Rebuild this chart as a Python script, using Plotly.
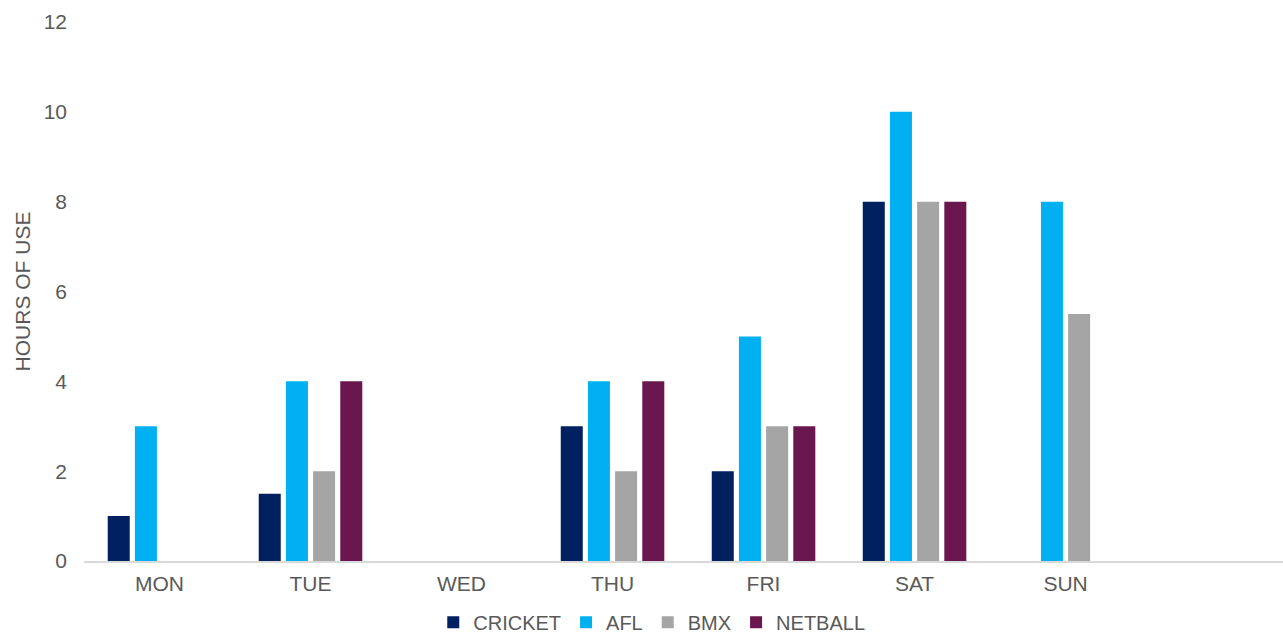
import plotly.graph_objects as go

days = ["MON", "TUE", "WED", "THU", "FRI", "SAT", "SUN"]
cricket = [1, 1.5, 0, 3, 2, 8, 0]
afl = [3, 4, 0, 4, 5, 10, 8]
bmx = [0, 2, 0, 2, 3, 8, 5.5]
netball = [0, 4, 0, 4, 3, 8, 0]

series = [
    ("CRICKET", cricket, "#002060"),
    ("AFL", afl, "#00B0F0"),
    ("BMX", bmx, "#A5A5A5"),
    ("NETBALL", netball, "#6B174F"),
]

fig = go.Figure()
for name, vals, color in series:
    fig.add_trace(go.Bar(
        x=days, y=vals, name=name,
        marker=dict(color=color, line=dict(width=0)),
    ))

font = dict(family="Arial, Liberation Sans, sans-serif", color="#595959", size=21)

fig.update_layout(
    width=1283, height=633,
    margin=dict(l=84, r=0, t=22, b=72),
    paper_bgcolor="white", plot_bgcolor="white",
    barmode="group", bargap=0.28, bargroupgap=0.19,
    font=font,
    showlegend=True,
    legend=dict(orientation="h", x=0.508, xref="container", xanchor="center",
                y=0.017, yref="container", yanchor="middle",
                font=dict(size=20, color="#595959"), itemwidth=30,
                traceorder="normal"),
    xaxis=dict(
        categoryorder="array", categoryarray=days,
        range=[-0.5, 7.44],
        showline=True, linecolor="#D9D9D9", linewidth=2,
        showgrid=False, zeroline=False, ticks="",
        tickfont=font, ticklabelstandoff=3,
    ),
    yaxis=dict(
        range=[0, 12], tickvals=[0, 2, 4, 6, 8, 10, 12],
        showgrid=False, zeroline=False, showline=False, ticks="",
        tickfont=font, ticklabelstandoff=16,
        title=dict(text="HOURS OF USE", font=dict(size=21, color="#595959"), standoff=7),
    ),
)

fig.write_html("out.html")
